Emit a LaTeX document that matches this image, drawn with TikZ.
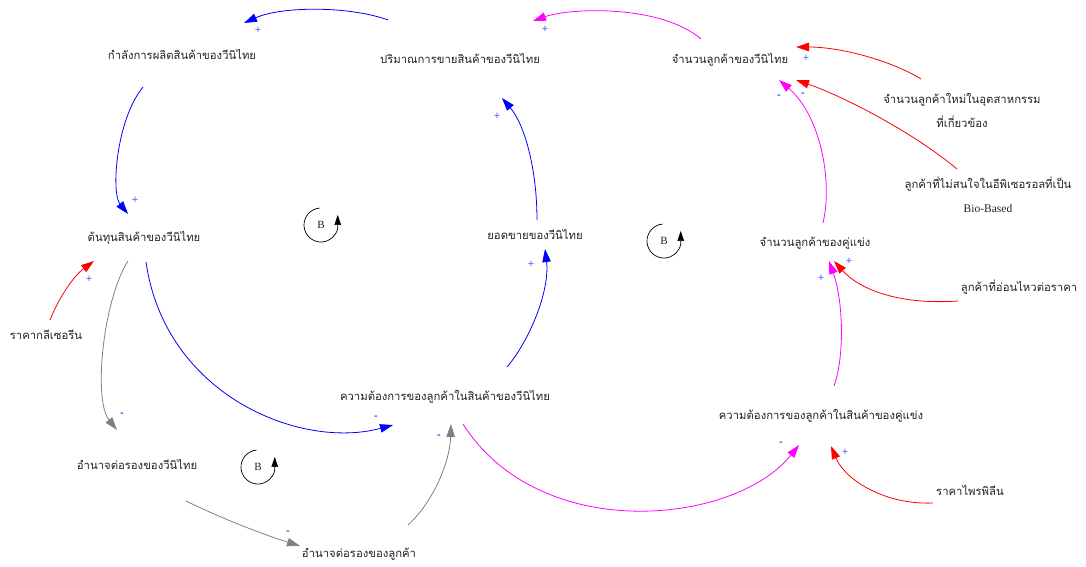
\documentclass[tikz,border=0pt]{standalone}
\usepackage{fontspec}
\newfontfamily\thai[Script=Thai]{Loma}
\newfontfamily\serifl{Liberation Serif}
\newfontfamily\signf{Liberation Sans}
\usetikzlibrary{arrows.meta}
\definecolor{txt}{HTML}{222222}
\definecolor{mag}{HTML}{FF00FF}
\definecolor{pluscol}{HTML}{5A5AFF}
\begin{document}
\begin{tikzpicture}[x=1pt,y=-1pt,
  var/.style={font=\thai\fontsize{11.3}{24}\selectfont, text=txt, inner sep=0pt, align=center, anchor=base},
  var2/.style={font=\thai\fontsize{11.3}{24}\selectfont, text=txt, inner sep=0pt, align=center, anchor=center},
  lnk/.style={line width=0.8pt, -{Triangle[length=13pt,width=8.5pt]}},
  possign/.style={font=\signf\fontsize{11}{11}\selectfont, text=pluscol, inner sep=0pt},
  negsign/.style={font=\signf\fontsize{11}{11}\selectfont, text=blue, inner sep=0pt},
  loopc/.style={line width=0.7pt, -{Triangle[length=10pt,width=6.5pt]}},
  looplbl/.style={font=\serifl\fontsize{11}{11}\selectfont, text=txt, inner sep=0pt}
]
\useasboundingbox (0,0) rectangle (1086,566);

% variables
\node[var] (A) at (182,59) {กำลังการผลิตสินค้าของวีนิไทย};
\node[var] (B) at (460,63) {ปริมาณการขายสินค้าของวีนิไทย};
\node[var] (C) at (730,63) {จำนวนลูกค้าของวีนิไทย};
\node[var2] (D) at (962,110) {จำนวนลูกค้าใหม่ในอุตสาหกรรม\\ที่เกี่ยวข้อง};
\node[var2] (E) at (988,195) {ลูกค้าที่ไม่สนใจในอีพิเซอรอลที่เป็น\\{\serifl\fontsize{11.5}{11.5}\selectfont Bio-Based}};
\node[var] (F) at (144,241) {ต้นทุนสินค้าของวีนิไทย};
\node[var] (G) at (46,339) {ราคากลีเซอรีน};
\node[var] (H) at (535,239) {ยอดขายของวีนิไทย};
\node[var] (I) at (445,400) {ความต้องการของลูกค้าในสินค้าของวีนิไทย};
\node[var] (J) at (815,246) {จำนวนลูกค้าของคู่แข่ง};
\node[var] (K) at (1019,291) {ลูกค้าที่อ่อนไหวต่อราคา};
\node[var] (L) at (821,419) {ความต้องการของลูกค้าในสินค้าของคู่แข่ง};
\node[var] (M) at (137,469) {อำนาจต่อรองของวีนิไทย};
\node[var] (N) at (359,557) {อำนาจต่อรองของลูกค้า};
\node[var] (O) at (970,495) {ราคาไพรพิลีน};

% connectors
\draw[lnk,blue] ([shift={(-72,-43)}]B.base) .. controls (350,6) and (282,6) .. ([shift={(62,-36)}]A.base);
\draw[lnk,mag] ([shift={(-29,-24)}]C.base) .. controls (660,4) and (569,8) .. ([shift={(73,-42)}]B.base);
\draw[lnk,blue] ([shift={(-39,28)}]A.base) .. controls (116,120) and (111,193) .. ([shift={(-16,-27)}]F.base);
\draw[lnk,blue] ([shift={(2,-19)}]H.base) .. controls (537,170) and (525,125) .. ([shift={(42,35)}]B.base);
\draw[lnk,blue] ([shift={(62,-33)}]I.base) .. controls (530,340) and (550,290) .. ([shift={(10,10)}]H.base);
\draw[lnk,blue] ([shift={(2,21)}]F.base) .. controls (165,395) and (300,450) .. ([shift={(-52,25)}]I.base);
\draw[lnk,gray] ([shift={(-16,20)}]F.base) .. controls (103,300) and (93,400) .. ([shift={(-20,-39)}]M.base);
\draw[lnk,red] ([shift={(4,-19)}]G.base) .. controls (60,295) and (75,275) .. ([shift={(-50,20)}]F.base);
\draw[lnk,gray] ([shift={(49,32)}]M.base) .. controls (225,520) and (265,535) .. ([shift={(-59,-11)}]N.base);
\draw[lnk,gray] ([shift={(49,-32)}]N.base) .. controls (435,500) and (450,460) .. ([shift={(6,24)}]I.base);
\draw[lnk,mag] ([shift={(18,24)}]I.base) .. controls (540,545) and (735,525) .. ([shift={(-22,26)}]L.base);
\draw[lnk,mag] ([shift={(8,-23)}]J.base) .. controls (833,180) and (820,115) .. ([shift={(49,17)}]C.base);
\draw[lnk,red] ([shift={(-41,-31)}]D.center) .. controls (890,60) and (840,47) .. ([shift={(66,-16)}]C.base);
\draw[lnk,red] ([shift={(-31,-26)}]E.center) .. controls (910,130) and (840,95) .. ([shift={(66,17)}]C.base);
\draw[lnk,mag] ([shift={(13,-33)}]L.base) .. controls (845,355) and (843,300) .. ([shift={(14,15)}]J.base);
\draw[lnk,red] ([shift={(-61,10)}]K.base) .. controls (900,305) and (860,290) .. ([shift={(19,15)}]J.base);
\draw[lnk,red] ([shift={(-37,8)}]O.base) .. controls (885,505) and (845,480) .. ([shift={(10,27)}]L.base);

% polarity signs
\node[possign] (s1) at (258,30) {+};
\node[possign] (s2) at (545,29) {+};
\node[possign] (s3) at (135,200) {+};
\node[possign] (s4) at (497,116) {+};
\node[possign] (s5) at (531,264) {+};
\node[negsign] (s6) at (376,418) {-};
\node[negsign] (s7) at (122,415) {-};
\node[possign] (s8) at (89,279) {+};
\node[negsign] (s9) at (288,533) {-};
\node[negsign] (s10) at (439,437) {-};
\node[negsign] (s11) at (781,444) {-};
\node[negsign] (s12) at (779,97) {-};
\node[possign] (s13) at (806,58) {+};
\node[negsign] (s14) at (803,95) {-};
\node[possign] (s15) at (821,278) {+};
\node[possign] (s16) at (849,261) {+};
\node[possign] (s17) at (845,452) {+};

% loop markers
\node[looplbl] (L1) at (321,225) {B};
\draw[loopc] ([shift={(95:17pt)}]L1.center) arc[start angle=95,end angle=350,radius=17pt] -- ++(0pt,13pt);
\node[looplbl] (L2) at (664,241) {B};
\draw[loopc] ([shift={(95:17pt)}]L2.center) arc[start angle=95,end angle=350,radius=17pt] -- ++(0pt,13pt);
\node[looplbl] (L3) at (258,467) {B};
\draw[loopc] ([shift={(95:17pt)}]L3.center) arc[start angle=95,end angle=350,radius=17pt] -- ++(0pt,13pt);
\end{tikzpicture}
\end{document}
